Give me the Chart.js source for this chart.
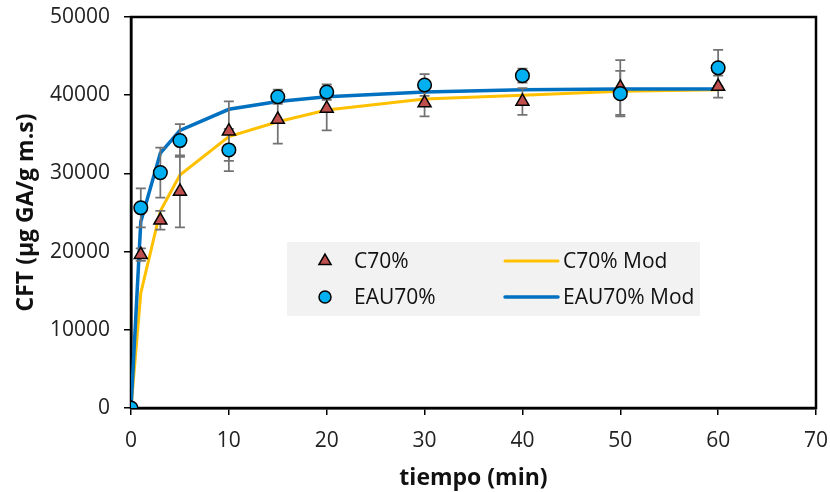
<!DOCTYPE html>
<html>
<head>
<meta charset="utf-8">
<script src="https://cdn.jsdelivr.net/npm/chart.js@4.4.1/dist/chart.umd.min.js"></script>
<style>
  html, body { margin: 0; padding: 0; background: #fff; }
  #wrap { width: 830px; height: 492px; }
</style>
</head>
<body>
<div id="wrap"><canvas id="myChart" width="830" height="492"></canvas></div>
<script>
// tiempo (min)
const times = [0, 1, 3, 5, 10, 15, 20, 30, 40, 50, 60];

// measured points with error bars
const c70 = [0, 19600, 24000, 27700, 35400, 36900, 38300, 39000, 39200, 41000, 41100];
const c70Err = [0, 800, 1200, 4600, 3800, 3100, 2800, 1700, 1700, 3500, 1400];
const eau70 = [0, 25600, 30100, 34200, 33000, 39800, 40400, 41300, 42500, 40200, 43500];
const eau70Err = [0, 2500, 3200, 2100, 2700, 900, 1000, 1400, 900, 2900, 2300];

// model curves
const c70Mod = [0, 14700, 25200, 29800, 34700, 36600, 38100, 39500, 40000, 40500, 40700];
const eau70Mod = [0, 23800, 32600, 35500, 38200, 39200, 39800, 40400, 40700, 40800, 40800];

const xTicks = [0, 10, 20, 30, 40, 50, 60, 70];
const yTicks = [0, 10000, 20000, 30000, 40000, 50000];

const toPoints = (vals) => vals.map((v, i) => ({ x: times[i], y: v }));

Chart.defaults.font.family = "'Open Sans', sans-serif";
Chart.defaults.color = "#222";

// error bars, drawn just before the first marker series
const errorBars = {
  id: "errorBars",
  beforeDatasetDraw(chart, args) {
    if (args.index !== 0) return;
    const { ctx, scales } = chart;
    ctx.save();
    ctx.strokeStyle = "#737373";
    ctx.lineWidth = 1.75;
    chart.data.datasets.forEach((ds) => {
      if (!ds.errors) return;
      ds.data.forEach((p, i) => {
        const e = ds.errors[i];
        if (!e) return;
        const x = scales.x.getPixelForValue(p.x);
        const y1 = scales.y.getPixelForValue(p.y + e);
        const y2 = scales.y.getPixelForValue(p.y - e);
        ctx.beginPath();
        ctx.moveTo(x, y1);
        ctx.lineTo(x, y2);
        ctx.moveTo(x - 5, y1);
        ctx.lineTo(x + 5, y1);
        ctx.moveTo(x - 5, y2);
        ctx.lineTo(x + 5, y2);
        ctx.stroke();
      });
    });
    ctx.restore();
  },
};

// frame round the plot area
const frame = {
  id: "frame",
  beforeDatasetsDraw(chart) {
    const { ctx, chartArea: a } = chart;
    ctx.save();
    ctx.strokeStyle = "#000";
    ctx.lineWidth = 2.5;
    ctx.strokeRect(a.left, a.top, a.right - a.left, a.bottom - a.top);
    ctx.restore();
  },
};

// legend box inside the plot, 2 columns
const boxLegend = {
  id: "boxLegend",
  afterDraw(chart) {
    const { ctx } = chart;
    const ds = chart.data.datasets;
    const items = [ds[0], ds[2], ds[1], ds[3]];
    const bx = 287, by = 242, bw = 413, bh = 74;
    ctx.save();
    ctx.fillStyle = "#f2f2f2";
    ctx.fillRect(bx, by, bw, bh);
    ctx.font = "21px 'Open Sans', sans-serif";
    ctx.textBaseline = "middle";
    ctx.fillStyle = "#111";
    items.forEach((d, k) => {
      const col = k % 2, row = Math.floor(k / 2);
      const cy = by + 19 + row * 36;
      if (col === 0) {
        const cx = bx + 38;
        ctx.save();
        ctx.fillStyle = d.backgroundColor;
        ctx.strokeStyle = d.borderColor;
        ctx.lineWidth = 1.5;
        Chart.helpers.drawPoint(ctx, { pointStyle: d.pointStyle, radius: d.pointStyle === "circle" ? 6 : 7, borderWidth: 1.5 }, cx, cy);
        ctx.restore();
        ctx.fillText(d.label, bx + 67, cy + 1);
      } else {
        ctx.save();
        ctx.strokeStyle = d.borderColor;
        ctx.lineWidth = d.borderWidth;
        ctx.lineCap = "round";
        ctx.beginPath();
        ctx.moveTo(bx + 218, cy);
        ctx.lineTo(bx + 271, cy);
        ctx.stroke();
        ctx.restore();
        ctx.fillText(d.label, bx + 276, cy + 1);
      }
    });
    ctx.restore();
  },
};

const data = {
  datasets: [
    {
      label: "C70%",
      data: toPoints(c70),
      errors: c70Err,
      showLine: false,
      pointStyle: "triangle",
      pointRadius: 7.5,
      pointBorderWidth: 1.5,
      backgroundColor: "#c0504d",
      borderColor: "#000",
      order: 1,
    },
    {
      label: "EAU70%",
      data: toPoints(eau70),
      errors: eau70Err,
      showLine: false,
      pointStyle: "circle",
      pointRadius: 6.8,
      pointBorderWidth: 1.5,
      backgroundColor: "#00b0f0",
      borderColor: "#000",
      order: 0,
    },
    {
      label: "C70% Mod",
      data: toPoints(c70Mod),
      showLine: true,
      pointRadius: 0,
      borderWidth: 3,
      borderColor: "#ffc000",
      backgroundColor: "#ffc000",
      order: 3,
    },
    {
      label: "EAU70% Mod",
      data: toPoints(eau70Mod),
      showLine: true,
      pointRadius: 0,
      borderWidth: 3.5,
      borderColor: "#0070c0",
      backgroundColor: "#0070c0",
      order: 2,
    },
  ],
};

const config = {
  type: "scatter",
  data,
  options: {
    responsive: false,
    animation: false,
    layout: { padding: { left: 0, top: 17, right: 14, bottom: 0 } },
    plugins: { legend: { display: false }, tooltip: { enabled: false } },
    scales: {
      x: {
        type: "linear",
        min: 0,
        max: 70,
        afterBuildTicks: (s) => { s.ticks = xTicks.map((v) => ({ value: v })); },
        afterFit: (s) => { s.height = 84; s.paddingLeft = 0; s.paddingRight = 0; },
        grid: { drawOnChartArea: false, drawTicks: true, tickLength: 7, color: "#000", lineWidth: 1.5 },
        border: { display: true, color: "#000", width: 2.5 },
        ticks: { font: { size: 21 }, padding: 13, color: "#222" },
        title: { display: true, text: "tiempo (min)", font: { size: 23, weight: "bold" }, color: "#111", padding: { top: 0, bottom: 0 } },
      },
      y: {
        type: "linear",
        min: 0,
        max: 50000,
        afterBuildTicks: (s) => { s.ticks = yTicks.map((v) => ({ value: v })); },
        afterFit: (s) => { s.width = 131; s.paddingTop = 0; s.paddingBottom = 0; },
        grid: { drawOnChartArea: false, drawTicks: true, tickLength: 7, color: "#000", lineWidth: 1.5 },
        border: { display: true, color: "#000", width: 2.5 },
        ticks: { font: { size: 21 }, padding: 14, color: "#222", callback: (v) => String(v) },
        title: { display: true, text: "CFT (µg GA/g m.s)", font: { size: 23, weight: "bold" }, color: "#111", padding: { top: 13, bottom: 0 } },
      },
    },
  },
  plugins: [frame, errorBars, boxLegend],
};

const myChart = new Chart(document.getElementById("myChart"), config);
</script>
</body>
</html>
